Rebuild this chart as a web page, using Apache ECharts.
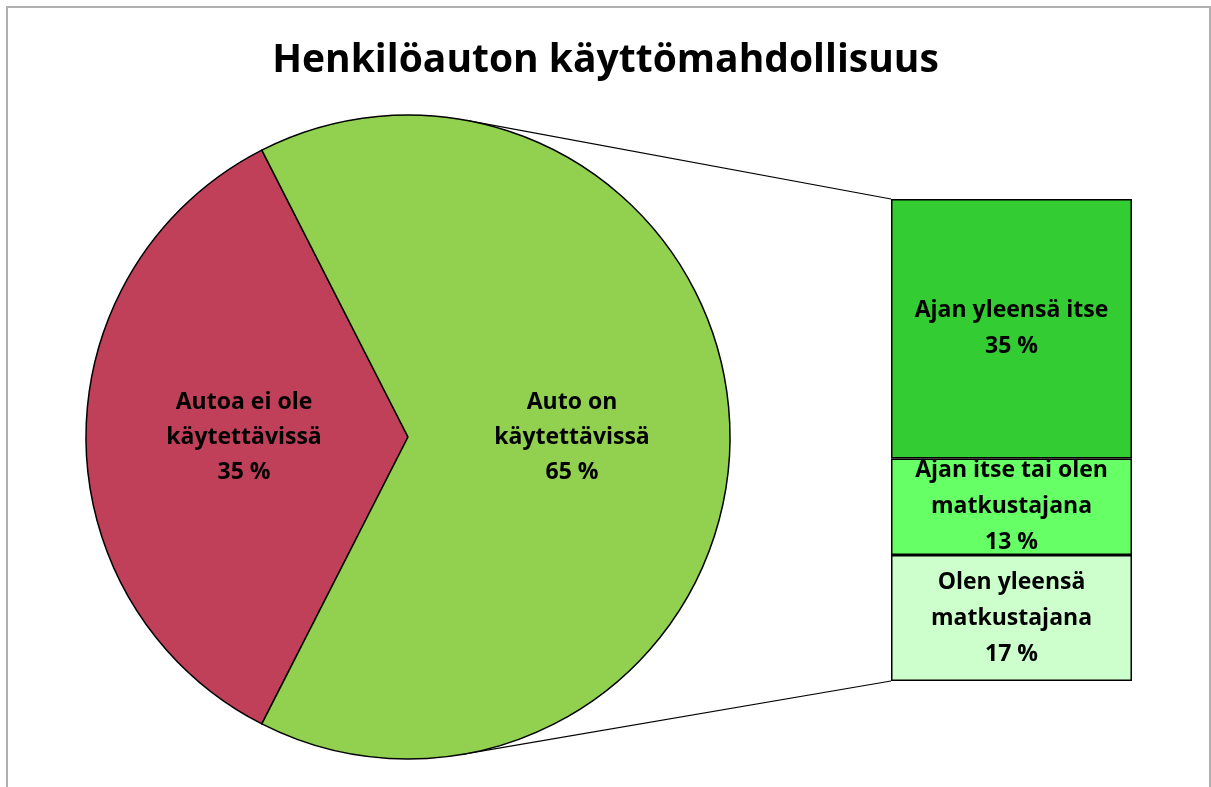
<!DOCTYPE html>
<html>
<head>
<meta charset="utf-8">
<script src="https://cdn.jsdelivr.net/npm/echarts@6/dist/echarts.min.js"></script>
<style>
  html, body { margin: 0; padding: 0; background: #fff; }
  #chart { width: 1211px; height: 787px; }
</style>
</head>
<body>
<div id="chart"></div>
<script>
// data
const pieNames = ['Autoa ei ole\nkäytettävissä', 'Auto on\nkäytettävissä'];
const pieValues = [35, 65];
const barNames = ['Ajan yleensä itse', 'Ajan itse tai olen\nmatkustajana', 'Olen yleensä\nmatkustajana'];
const barValues = [35, 13, 17];

const pieColors = ['#c0405a', '#92d050'];
const barColors = ['#33cc33', '#66ff66', '#ccffcc'];

// layout
const font = 'Open Sans';
const cx = 408, cy = 437, r = 322;
const gridLeft = 891, gridTop = 199, gridWidth = 241, gridHeight = 482;

let chart = echarts.init(document.getElementById('chart'));

// tangent point from a bar corner to the pie circle
function tangent(px, py, upper) {
  let dx = px - cx, dy = py - cy;
  let d = Math.sqrt(dx * dx + dy * dy);
  let a = Math.atan2(dy, dx) + (upper ? -1 : 1) * Math.acos(r / d);
  return [cx + r * Math.cos(a), cy + r * Math.sin(a)];
}
let t1 = tangent(gridLeft, gridTop, true);
let t2 = tangent(gridLeft, gridTop + gridHeight, false);

const pct = v => v + ' %';

chart.setOption({
  animation: false,
  title: {
    text: 'Henkilöauton käyttömahdollisuus',
    left: 'center',
    top: 36,
    textStyle: { fontFamily: font, fontWeight: 'bold', fontSize: 39, color: '#000' }
  },
  grid: { left: gridLeft, top: gridTop, width: gridWidth, height: gridHeight },
  xAxis: { type: 'category', data: ['x'], show: false },
  yAxis: { type: 'value', inverse: true, min: 0, max: pieValues[1], show: false },
  graphic: [
    { type: 'rect', shape: { x: 7, y: 7, width: 1203, height: 800 },
      style: { fill: 'none', stroke: '#b0b0b0', lineWidth: 2 }, z: -1 },
    { type: 'line', shape: { x1: t1[0], y1: t1[1], x2: gridLeft, y2: gridTop },
      style: { stroke: '#000', lineWidth: 1.2 } },
    { type: 'line', shape: { x1: t2[0], y1: t2[1], x2: gridLeft, y2: gridTop + gridHeight },
      style: { stroke: '#000', lineWidth: 1.2 } }
  ],
  series: [
    {
      type: 'pie',
      center: [cx, cy],
      radius: r,
      startAngle: 243,
      clockwise: true,
      itemStyle: { borderColor: '#000', borderWidth: 1.5 },
      label: {
        position: 'inside',
        formatter: p => p.name + '\n' + pct(p.value),
        fontFamily: font, fontWeight: 'bold', fontSize: 23, lineHeight: 35, color: '#000'
      },
      data: pieNames.map((n, i) => ({ name: n, value: pieValues[i], itemStyle: { color: pieColors[i] } }))
    }
  ].concat(barNames.map((n, i) => ({
    type: 'bar',
    name: n,
    stack: 'auto',
    barWidth: '100%',
    data: [barValues[i]],
    itemStyle: { color: barColors[i], borderColor: '#000', borderWidth: 1.5 },
    label: {
      show: true,
      position: 'inside',
      formatter: n + '\n' + pct(barValues[i]),
      fontFamily: font, fontWeight: 'bold', fontSize: 23, lineHeight: 36, color: '#000'
    }
  })))
});
</script>
</body>
</html>
